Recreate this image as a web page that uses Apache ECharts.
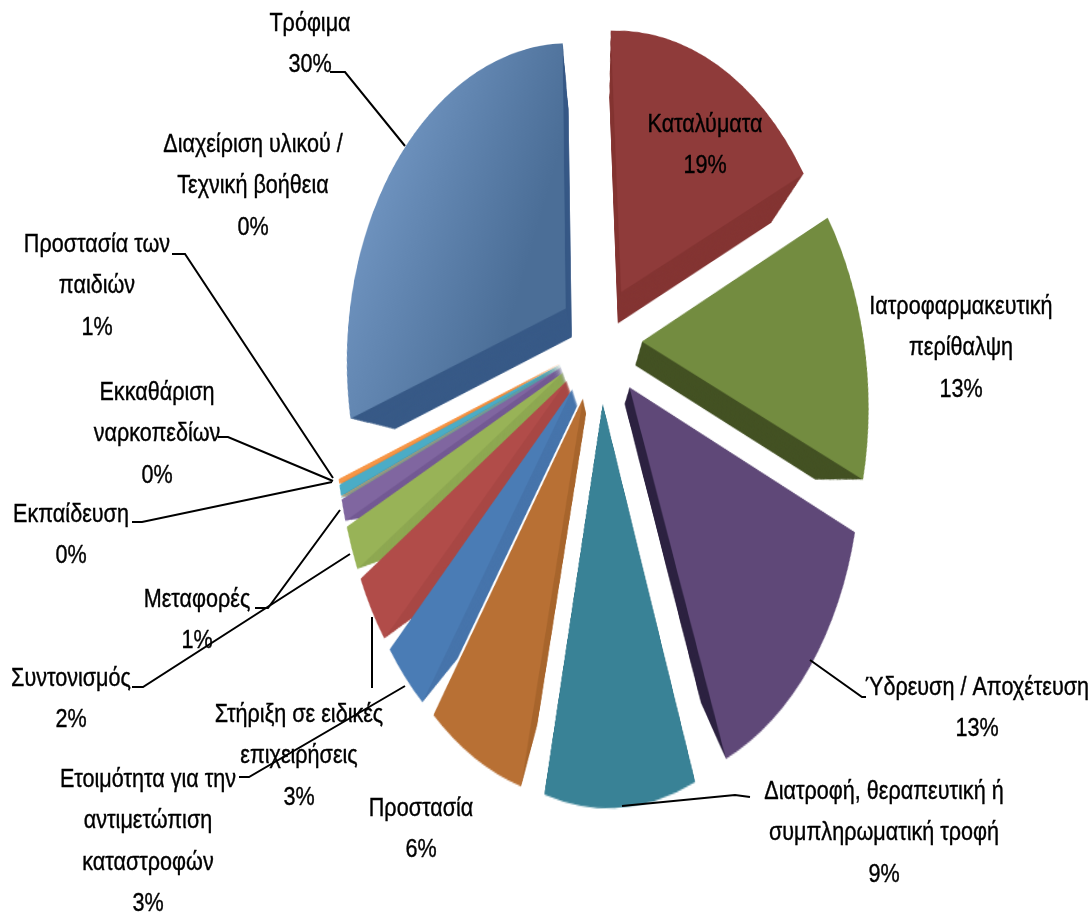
<!DOCTYPE html>
<html>
<head>
<meta charset="utf-8">
<script src="https://cdn.jsdelivr.net/npm/echarts@6/dist/echarts.min.js"></script>
<style>
    html, body { margin: 0; padding: 0; background: #fff; overflow: hidden; }
    #stage { position: relative; width: 1089px; height: 913px; overflow: hidden; }
    /* the pie gets its own layer so it can be tilted like the 3D original */
    #pie {
        position: absolute; left: -3px; top: -98px; width: 1089px; height: 1013px;
        transform-origin: 603px 440px;
        transform: matrix3d(0.735,-0.03,0,0, 0.03,1.058,0,-0.00053, 0,0,1,0, 0,0,0,1);
    }
    #labels { position: absolute; left: 0; top: 0; width: 1089px; height: 913px; }
</style>
</head>
<body>
<div id="stage">
    <div id="pie"></div>
    <div id="labels"></div>
</div>
<script>
const categories = [
    'Καταλύματα', 'Ιατροφαρμακευτική\nπερίθαλψη', 'Ύδρευση / Αποχέτευση',
    'Διατροφή, θεραπευτική ή\nσυμπληρωματική τροφή', 'Προστασία', 'Ετοιμότητα για την\nαντιμετώπιση\nκαταστροφών',
    'Στήριξη σε ειδικές\nεπιχειρήσεις', 'Συντονισμός', 'Μεταφορές', 'Εκπαίδευση',
    'Εκκαθάριση\nναρκοπεδίων', 'Προστασία των\nπαιδιών', 'Διαχείριση υλικού /\nΤεχνική βοήθεια', 'Τρόφιμα'
];
const values = [18.6, 13.4, 13, 9, 6, 3, 3, 2, 1, 0.02, 0.02, 0.5, 0.2, 30];

const topColors = ['#8f3b3a', '#738c40', '#5f4878', '#398296', '#b87034', '#4a7cb5', '#b14c49', '#98b357', '#8066a0', '#4bacc6', '#f79646', '#4bacc6', '#f79646', '#5f84b0'];
const wallColors = ['#843533', '#445224', '#2d2340', '#2f6c7d', '#a8662e', '#4674ab', '#a84744', '#8ea852', '#745a94', '#42a0b8', '#e88b40', '#42a0b8', '#e88b40', '#385a87'];

// label anchor: centre x, top of first line
const labelPos = [
    [705, 104], [961, 286], [977, 667], [884, 771], [421, 788], [148, 759], [299, 694],
    [71, 658], [197, 579], [71, 494], [157, 372], [97, 224], [253, 124], [310, 3]
];
const leaders = [
    [[330, 72], [345, 72], [405, 146]],
    [[810, 660], [862, 697], [866, 697]],
    [[622, 806], [735, 795], [750, 797]],
    [[372, 617], [372, 688]],
    [[239, 777], [249, 777], [405, 686]],
    [[132, 687], [143, 687], [350, 554]],
    [[255, 608], [268, 608], [340, 510]],
    [[132, 522], [142, 522], [332, 482]],
    [[218, 437], [228, 437], [333, 481]],
    [[172, 254], [185, 254], [333, 478]]
];

const CX = 603, CY = 440, R = 300, EXPLODE = 57;
// slice walls: smaller copies pulled toward a vanishing point, stacked to fill the sweep
const WALL_FROM = 0.82, WALL_STEP = 0.004;
const VX = 600, VY = 562;

function pieSeries(center, radius, offset, colors) {
    return {
        type: 'pie',
        center: center,
        radius: radius,
        startAngle: 90,
        selectedMode: 'multiple',
        selectedOffset: offset,
        silent: true,
        animation: false,
        label: { show: false },
        labelLine: { show: false },
        data: values.map((v, i) => ({
            value: v,
            name: categories[i],
            selected: true,
            itemStyle: { color: colors[i] }
        }))
    };
}

const surface = topColors.slice();
surface[13] = {
    type: 'linear', x: 0, y: 0, x2: 1, y2: 0.3,
    colorStops: [{ offset: 0, color: '#7a9fcc' }, { offset: 1, color: '#4b6e97' }]
};

const walls = [];
for (let s = WALL_FROM; s < 1; s += WALL_STEP) {
    walls.push(pieSeries([VX + s * (CX - VX), VY + s * (CY - VY)], R * s, EXPLODE * s, wallColors));
}

const pieChart = echarts.init(document.getElementById('pie'), null, { renderer: 'canvas' });
pieChart.setOption({
    series: walls.concat([pieSeries([CX, CY], R, EXPLODE, surface)])
});

const texts = categories.map((name, i) => ({
    type: 'text',
    x: labelPos[i][0],
    y: labelPos[i][1],
    scaleX: 0.83,
    style: {
        text: name + '\n' + Math.round(values[i]) + '%',
        font: '26px "Liberation Sans"',
        fill: '#000',
        stroke: '#000',
        lineWidth: 0.4,
        align: 'center',
        verticalAlign: 'top',
        lineHeight: 41.5
    }
}));
const lines = leaders.map(points => ({
    type: 'polyline',
    shape: { points: points },
    style: { stroke: '#000', lineWidth: 2, fill: null }
}));

const labelChart = echarts.init(document.getElementById('labels'));
labelChart.setOption({
    animation: false,
    graphic: { elements: lines.concat(texts) }
});
</script>
</body>
</html>
